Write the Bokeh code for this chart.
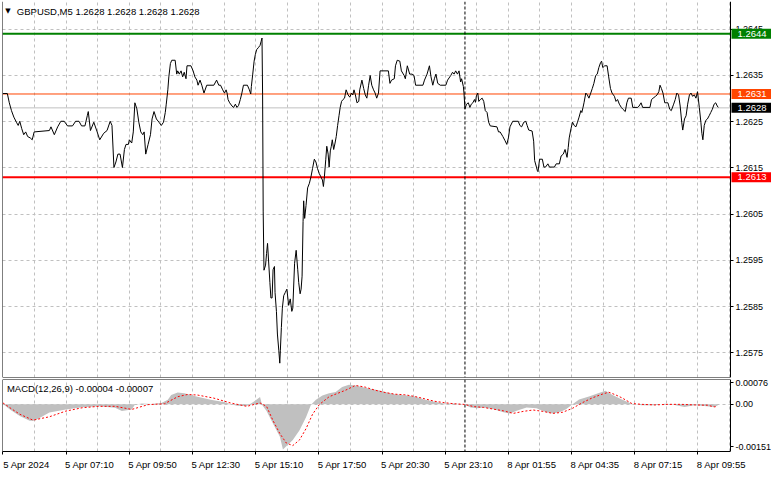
from bokeh.plotting import figure
from bokeh.models import (Range1d, FixedTicker, Span, Label, BoxAnnotation,
                          LinearAxis, CustomJSTickFormatter)
from bokeh.layouts import column
from bokeh.embed import file_html
from bokeh.resources import INLINE

# ---------------- data ----------------
symbol = "GBPUSD,M5"
last_ohlc = ["1.2628", "1.2628", "1.2628", "1.2628"]

# bar index (M5 bars since 5 Apr 04:30) and close price
bar_idx = [
    0, 2.2, 3.2, 4.3, 5.5, 6.8, 7.7, 8.5, 9.5, 10.5, 11.5, 12.5, 13.8, 14.8, 15.8,
    23.5, 24.3, 26, 27.7, 29.3, 31, 32.7, 35.2, 36.8, 38.5, 39.8, 41.5, 42.7, 43.2,
    44.3, 46, 47.7, 49, 51, 52.7, 54.3, 55.2, 56.2, 57.2, 58.2, 59.3, 60.5, 61.5,
    62.3, 63.5, 64, 65.2, 66, 66.8, 67.8, 68.8, 69.8, 70.8, 71.5, 72.3, 73.5, 74.7,
    75.5, 76.5, 77.7, 79, 80.2, 81.3, 82.2, 82.7, 83.5, 84, 84.8, 85.5, 87.2, 88,
    88.5, 89.3, 90.2, 91, 91.8, 92.7, 93.2, 95.2, 96.3, 97.2, 98.2, 98.8, 99.8,
    100.7, 101.8, 103.2, 106.8, 108.2, 109.3, 110.2, 111.3, 112.2, 113, 113.5, 114,
    114.8, 116, 116.8, 117.7, 118.5, 119.3, 120.2, 121, 121.8, 123.8, 124.8, 125.5,
    125.8, 126.5, 127.2, 127.8, 128.5, 129.3, 130.2, 130.7, 131.2, 131.5, 131.8,
    132.2, 133, 133.5, 134, 134.5, 135.2, 135.7, 136.3, 136.8, 137.5, 137.8, 138.5,
    139, 139.7, 140.2, 140.5, 141, 141.5, 142.2, 143, 143.8, 144.7, 145.5, 146.3,
    146.8, 147.7, 148.5, 149.3, 149.8, 150.5, 151, 151.5, 152, 152.3, 152.8, 153.5,
    154.3, 155.2, 156, 156.8, 157.7, 158.5, 159.3, 160.2, 161, 161.8, 162.3, 162.8,
    163.5, 164, 164.7, 165.2, 165.8, 166.3, 166.8, 167.5, 168.2, 168.8, 169.5, 170.2,
    170.8, 171.5, 172.2, 173, 173.8, 174.8, 175.7, 176.5, 177.2, 177.8, 178.5, 179.3,
    180.2, 180.7, 181.8, 182.7, 183.5, 184.3, 185.2, 186, 186.8, 187.7, 188.5, 189.3,
    190.2, 191, 195.2, 196, 196.8, 198.2, 198.8, 199.7, 201, 201.8, 203.2, 203.8,
    204.8, 206, 207.2, 208.2, 209, 212.7, 213.5, 214.8, 216, 216.8, 217.7, 218.5,
    219.3, 220.2, 221.5, 224.3, 225.2, 226.8, 227.7, 228.5, 229.3, 230.2, 231, 231.8,
    232.3, 233.2, 233.5, 234, 234.8, 235.7, 236.5, 237.2, 238, 238.8, 239.3, 239.8,
    240.5, 241, 241.8, 242.7, 243.5, 244.3, 245.2, 246, 246.8, 250.2, 251, 251.8,
    253.2, 254.3, 255.2, 256, 256.8, 258.2, 261, 261.8, 262.7, 263.8, 264.8, 265.5,
    266.3, 268, 268.8, 269.3, 270.2, 270.7, 271, 271.8, 273.2, 274, 274.8, 276,
    276.8, 279.3, 280.2, 281.8, 282.7, 283.8, 284.7, 285.7, 286.3, 286.8, 287.7,
    288.5, 289.3, 290.2, 291, 291.8, 292.7, 293.2, 293.8, 294.3, 295.2, 296, 296.8,
    297.7, 298.5, 299.3, 300.2, 301, 301.8, 302.7, 303.2, 303.8, 304.8, 306, 306.8,
    307.7, 308.5, 309.7, 310.5, 311.3, 312.2, 313.2, 314, 315.2, 316, 316.8, 318.2,
    319, 321.5, 322.2, 323.2, 324, 327.7, 328.5, 329.3, 330.5, 331.3, 332.2, 332.8,
    333.5, 334.3, 335.2, 336.8, 337.7, 338.5, 339.7, 340.5, 341.3, 342.2, 343, 343.8,
    344.3, 345.2, 346, 346.8, 347.7, 348.5, 349.3, 350.2, 351, 351.8, 352.7, 353.5,
    354, 354.5, 355.2, 356, 356.8, 357.7, 358.5, 359.3, 360.2, 361, 361.8, 362.3,
]
close = [
    1.26311, 1.26311, 1.26291, 1.26274, 1.26260, 1.26249, 1.26242, 1.26251, 1.26235,
    1.26222, 1.26228, 1.26218, 1.26215, 1.26211, 1.26228, 1.26231, 1.26239, 1.26222,
    1.26239, 1.26251, 1.26251, 1.26241, 1.26241, 1.26251, 1.26251, 1.26241, 1.26241,
    1.26263, 1.26272, 1.26231, 1.26249, 1.26228, 1.26211, 1.26225, 1.26231, 1.26251,
    1.26242, 1.26151, 1.26163, 1.26180, 1.26180, 1.26151, 1.26190, 1.26201, 1.26201,
    1.26211, 1.26204, 1.26228, 1.26291, 1.26278, 1.26249, 1.26228, 1.26222, 1.26228,
    1.26180, 1.26201, 1.26222, 1.26256, 1.26272, 1.26256, 1.26249, 1.26242, 1.26249,
    1.26270, 1.26288, 1.26319, 1.26347, 1.26376, 1.26383, 1.26383, 1.26353,
    1.26360, 1.26353, 1.26360, 1.26347, 1.26357, 1.26343, 1.26371, 1.26371, 1.26360,
    1.26347, 1.26340, 1.26329, 1.26340, 1.26329, 1.26312, 1.26329, 1.26329, 1.26340,
    1.26329, 1.26329, 1.26319, 1.26312, 1.26319, 1.26312, 1.26298, 1.26291, 1.26284,
    1.26281, 1.26288, 1.26281, 1.26285, 1.26298, 1.26312, 1.26329, 1.26329, 1.26319,
    1.26310, 1.26326, 1.26353, 1.26381, 1.26395, 1.26406, 1.26410, 1.26415, 1.26423,
    1.26431, 1.26308, 1.26055, 1.25929, 1.25940, 1.25965, 1.25987, 1.25951, 1.25902,
    1.25869, 1.25869, 1.25930, 1.25937, 1.25881, 1.25840, 1.25791, 1.25756, 1.25728,
    1.25756, 1.25805, 1.25847, 1.25874, 1.25881, 1.25888, 1.25853, 1.25867, 1.25840,
    1.25847, 1.25944, 1.25972, 1.25930, 1.25902, 1.25878, 1.25888, 1.25916, 1.26034,
    1.26079, 1.26041, 1.26069, 1.26107, 1.26117, 1.26131, 1.26149, 1.26169, 1.26163,
    1.26149, 1.26138, 1.26131, 1.26124, 1.26110, 1.26131, 1.26169, 1.26197, 1.26180,
    1.26152, 1.26187, 1.26197, 1.26211, 1.26190, 1.26204, 1.26218, 1.26242, 1.26263,
    1.26281, 1.26294, 1.26298, 1.26301, 1.26319, 1.26308, 1.26303, 1.26312, 1.26308,
    1.26319, 1.26308, 1.26291, 1.26294, 1.26319, 1.26340, 1.26322, 1.26308, 1.26301,
    1.26329, 1.26350, 1.26329, 1.26319, 1.26312, 1.26301, 1.26312, 1.26360, 1.26360,
    1.26333, 1.26340, 1.26343, 1.26371, 1.26383, 1.26381, 1.26360, 1.26350, 1.26343,
    1.26371, 1.26353, 1.26353, 1.26350, 1.26329, 1.26329, 1.26340, 1.26353, 1.26371,
    1.26347, 1.26329, 1.26343, 1.26353, 1.26333, 1.26329, 1.26329, 1.26340, 1.26350,
    1.26357, 1.26353, 1.26360, 1.26353, 1.26360, 1.26336, 1.26343, 1.26326, 1.26312,
    1.26278, 1.26288, 1.26291, 1.26281, 1.26288, 1.26291, 1.26298, 1.26292, 1.26306,
    1.26312, 1.26294, 1.26298, 1.26301, 1.26294, 1.26274, 1.26270, 1.26249, 1.26241,
    1.26239, 1.26228, 1.26228, 1.26218, 1.26209, 1.26201, 1.26215, 1.26239, 1.26251,
    1.26251, 1.26242, 1.26239, 1.26249, 1.26251, 1.26242, 1.26232, 1.26230, 1.26208,
    1.26166, 1.26152, 1.26144, 1.26142, 1.26169, 1.26169, 1.26152, 1.26152, 1.26159,
    1.26152, 1.26152, 1.26159, 1.26159, 1.26176, 1.26180, 1.26190, 1.26173, 1.26194,
    1.26215, 1.26235, 1.26249, 1.26242, 1.26239, 1.26249, 1.26260, 1.26274, 1.26270,
    1.26281, 1.26291, 1.26312, 1.26308, 1.26301, 1.26312, 1.26322, 1.26333, 1.26350,
    1.26353, 1.26367, 1.26378, 1.26381, 1.26367, 1.26371, 1.26371, 1.26347, 1.26322,
    1.26312, 1.26305, 1.26294, 1.26298, 1.26288, 1.26281, 1.26277, 1.26272, 1.26291,
    1.26301, 1.26301, 1.26281, 1.26281, 1.26284, 1.26291, 1.26281, 1.26281, 1.26298,
    1.26301, 1.26305, 1.26308, 1.26315, 1.26329, 1.26322, 1.26312, 1.26291, 1.26291,
    1.26277, 1.26274, 1.26288, 1.26298, 1.26312, 1.26308, 1.26284, 1.26249, 1.26232,
    1.26256, 1.26263, 1.26288, 1.26308, 1.26312, 1.26305, 1.26308, 1.26301, 1.26315,
    1.26281, 1.26249, 1.26225, 1.26211, 1.26242, 1.26253, 1.26256, 1.26263, 1.26270,
    1.26277, 1.26288, 1.26291, 1.26284, 1.26281,
]

# MACD(12,26,9) main (histogram) and signal
hist_bar = [
    0, 3.5, 8.5, 13.5, 16, 23.5, 31.8, 40.2, 48.5, 56.8, 60.2, 65.2, 66.8, 70.2, 75.2,
    80.2, 83.5, 85.2, 88.5, 91.8, 95.2, 98.5, 105.2, 111.8, 115.2, 118.5, 123.5, 126.8,
    130.2, 131.2, 133.5, 136.8, 140.2, 141.8, 143.5, 146.8, 150.2, 153.5, 156, 158.5,
    161.8, 165.2, 168.5, 171.8, 175.2, 178.5, 181.8, 185.2, 190.2, 193.5, 198.5, 203.5,
    208.5, 213.5, 218.5, 223.5, 228.5, 233.5, 236.8, 240.2, 243.5, 248.5, 253.5, 256.8,
    260.2, 265.2, 270.2, 275.2, 278.5, 281.8, 285.2, 288.5, 291.8, 296.8, 301.8, 305.2,
    308.5, 313.5, 318.5, 323.5, 330.2, 335.2, 340.2, 345.2, 350.2, 355.2, 360.2, 362,
]
hist_val = [
    0.00001, -0.00018, -0.00041, -0.00058, -0.00058, -0.00029, -0.00018, -0.00010,
    -0.00007, -0.00012, -0.00024, -0.00018, -0.00001, 0.00003, 0.00001, 0.00005,
    0.00016, 0.00033, 0.00042, 0.00039, 0.00033, 0.00027, 0.00016, 0.00008, 0.00001,
    -0.00005, -0.00006, 0.00008, 0.00026, -0.00001, -0.00024, -0.00069, -0.00114,
    -0.00160, -0.00148, -0.00126, -0.00092, -0.00046, -0.00001, 0.00016, 0.00031,
    0.00039, 0.00044, 0.00061, 0.00069, 0.00067, 0.00061, 0.00056, 0.00050, 0.00044,
    0.00036, 0.00032, 0.00028, 0.00017, 0.00009, 0.00003, 0.00003, 0.0, -0.00011,
    -0.00014, -0.00011, -0.00017, -0.00028, -0.00032, -0.00023, -0.00011, -0.00014,
    -0.00028, -0.00032, -0.00028, -0.00017, 0.0, 0.00017, 0.00028, 0.00040, 0.00048,
    0.00034, 0.00017, 0.00002, -0.00003, -0.00003, 0.00002, -0.00002, -0.00009,
    -0.00003, -0.00006, -0.00009, -0.00004,
]
signal_bar = [
    0, 3.5, 8.5, 15.2, 23.5, 31.8, 40.2, 48.5, 56.8, 65.2, 73.5, 81.8, 88.5, 93.5, 98.5,
    106.8, 115.2, 123.5, 130.2, 133.5, 136.8, 140.2, 143.5, 146.8, 150.2, 153.5, 156.8,
    160.2, 165.2, 173.5, 178.5, 183.5, 188.5, 193.5, 198.5, 203.5, 208.5, 213.5, 218.5,
    223.5, 228.5, 233.5, 238.5, 243.5, 248.5, 253.5, 258.5, 263.5, 268.5, 273.5, 278.5,
    283.5, 288.5, 293.5, 298.5, 303.5, 306.8, 310.2, 313.5, 318.5, 323.5, 330.2, 336.8,
    343.5, 350.2, 356.8, 360.2, 362,
]
signal_val = [
    0.00005, -0.00012, -0.00035, -0.00056, -0.00044, -0.00024, -0.00012, -0.00007,
    -0.00007, -0.00018, -0.00001, 0.00002, 0.00027, 0.00035, 0.00033, 0.00022, 0.00005,
    -0.00007, 0.00005, -0.00007, -0.00058, -0.00103, -0.00137, -0.00146, -0.00126,
    -0.00086, -0.00035, -0.00001, 0.00027, 0.00050, 0.00067, 0.00061, 0.00050, 0.00042,
    0.00036, 0.00034, 0.00028, 0.00020, 0.00011, 0.00006, 0.00002, 0.0, -0.00008,
    -0.00011, -0.00017, -0.00023, -0.00032, -0.00025, -0.00020, -0.00025, -0.00032,
    -0.00028, -0.00014, 0.00006, 0.00023, 0.00036, 0.00043, 0.00034, 0.00023, 0.00003,
    0.0, -0.00002, 0.0, 0.0, -0.00002, -0.00003, -0.00009, -0.00007,
]
macd_title = "MACD(12,26,9) -0.00004 -0.00007"

price_ticks = [1.2575, 1.2585, 1.2595, 1.2605, 1.2615, 1.2625, 1.2635, 1.2645]
macd_ticks = [-0.00151, 0.0, 0.00076]
time_label_bars = [0, 32, 64, 96, 128, 160, 192, 224, 256, 288, 320, 352]
time_labels = ["5 Apr 2024", "5 Apr 07:10", "5 Apr 09:50", "5 Apr 12:30",
               "5 Apr 15:10", "5 Apr 17:50", "5 Apr 20:30", "5 Apr 23:10",
               "8 Apr 01:55", "8 Apr 04:35", "8 Apr 07:15", "8 Apr 09:55"]
grid_bars = list(range(16, 369, 16))
separator_bar = 234  # 8 Apr 00:00

level_values = [1.2644, 1.2631, 1.2628, 1.2613]
level_labels = ["1.2644", "1.2631", "1.2628", "1.2613"]
level_colors = ["#008000", "#ff4500", "#c0c0c0", "#ff0000"]
level_box_colors = ["#008000", "#ff4500", "#000000", "#ff0000"]
level_widths = [2, 1, 1, 2]

# ---------------- styling / layout ----------------
FONT = "Liberation Sans"
FS = "9.5px"
AXFS = "9px"
PLOT_W = 728            # width of the charting area (left of price scale)
FULL_W = 769            # frame incl. price-scale area
X0, X1 = -0.25, 368.5
PX_PER_BAR = PLOT_W / (X1 - X0)
XE = X1 + (FULL_W - PLOT_W) / PX_PER_BAR
PY0, PY1 = 1.25697, 1.26510
MY0, MY1 = -0.00167, 0.00088
MAIN_H = 376
MACD_H = 72
GRID_COLOR = "#c0c0c0"
LABEL_SHIFT = 23.5 / PX_PER_BAR   # centre of a left-aligned time label


def line_axis(loc, bounds=None):
    ax = LinearAxis(fixed_location=loc, ticker=FixedTicker(ticks=[]),
                    formatter=CustomJSTickFormatter(code="return '';"),
                    axis_line_color="black", major_tick_line_color=None,
                    minor_tick_line_color=None, major_label_text_font_size="0px")
    if bounds is not None:
        ax.bounds = bounds
    return ax


def price_axis(ticks, code):
    return LinearAxis(fixed_location=X1, ticker=FixedTicker(ticks=ticks),
                      formatter=CustomJSTickFormatter(code=code),
                      axis_line_color="black", major_tick_line_color="black",
                      major_tick_out=3, major_tick_in=0, minor_tick_line_color=None,
                      major_label_standoff=2, major_label_text_font=FONT,
                      major_label_text_font_size=AXFS, major_label_text_color="black")


def base_fig(h, yr, bottom):
    f = figure(frame_width=FULL_W, frame_height=h,
               x_range=Range1d(X0, XE), y_range=yr,
               x_axis_location=None, y_axis_location=None,
               output_backend="svg", toolbar_location=None,
               min_border_left=2, min_border_right=0,
               min_border_top=1, min_border_bottom=bottom)
    f.outline_line_color = None
    f.background_fill_color = "white"
    f.border_fill_color = "white"
    f.xgrid.ticker = FixedTicker(ticks=grid_bars)
    for g in (f.xgrid, f.ygrid):
        g.grid_line_color = GRID_COLOR
        g.grid_line_dash = "3 3"
        g.grid_line_width = 1
    return f


# ---------------- main price panel ----------------
p = base_fig(MAIN_H, Range1d(PY0, PY1), 1)
p.ygrid.ticker = FixedTicker(ticks=price_ticks)

for v, c, w in zip(level_values, level_colors, level_widths):
    p.add_layout(Span(location=v, dimension="width", line_color=c,
                      line_width=w, level="underlay"))
p.add_layout(Span(location=separator_bar, dimension="height", line_color="black",
                  line_width=1, line_dash="3 2", level="underlay"))
# price-scale area stays white
p.add_layout(BoxAnnotation(left=X1, fill_color="white", fill_alpha=1.0,
                           line_color=None, level="underlay"))

p.line(bar_idx, close, line_color="black", line_width=1)

p.add_layout(line_axis(X0), "left")
p.add_layout(line_axis(PY0, (X0, X1)), "below")
p.add_layout(price_axis(price_ticks, "return tick.toFixed(4);"), "right")

py_per_px = (PY1 - PY0) / 390.0
p.add_layout(Label(x=2.5, y=PY1 - 10 * py_per_px, text="\u25bc", text_font="DejaVu Sans",
                   text_font_size="7px", text_color="black",
                   text_align="center", text_baseline="middle"))
p.add_layout(Label(x=7, y=PY1 - 10 * py_per_px,
                   text=symbol + "  " + " ".join(last_ohlc),
                   text_font=FONT, text_font_size=FS, text_color="black",
                   text_align="left", text_baseline="middle"))

for v, lab, bc in zip(level_values, level_labels, level_box_colors):
    p.add_layout(Label(x=X1, y=v, x_offset=1, text=lab, text_font=FONT,
                       text_font_size=FS, text_color="white",
                       background_fill_color=bc, text_align="left",
                       text_baseline="middle", padding=(6, 2)))

# ---------------- MACD panel ----------------
m = base_fig(MACD_H, Range1d(MY0, MY1), 22)
m.ygrid.ticker = FixedTicker(ticks=[0.0])

m.add_layout(Span(location=separator_bar, dimension="height", line_color="black",
                  line_width=1, line_dash="3 2", level="underlay"))
m.add_layout(BoxAnnotation(left=X1, fill_color="white", fill_alpha=1.0,
                           line_color=None, level="underlay"))
m.varea(x=hist_bar, y1=0, y2=hist_val, fill_color="#c0c0c0")
m.line(signal_bar, signal_val, line_color="#ff0000", line_width=1, line_dash="2 2")

m.add_layout(line_axis(X0), "left")
m.add_layout(line_axis(MY1, (X0, X1)), "above")
m.add_layout(price_axis(macd_ticks,
                        "return Math.abs(tick) < 1e-12 ? '0.00' : tick.toFixed(5);"), "right")

label_ticks = [b + LABEL_SHIFT for b in time_label_bars]
xa = LinearAxis(ticker=FixedTicker(ticks=label_ticks, minor_ticks=time_label_bars),
                formatter=CustomJSTickFormatter(
                    args=dict(labels=time_labels, first=label_ticks[0], step=32),
                    code="const i = Math.round((tick - first) / step); return labels[i] || '';"),
                bounds=(X0, X1),
                axis_line_color="black", major_tick_line_color=None,
                major_tick_out=0, major_tick_in=0,
                minor_tick_line_color="black", minor_tick_out=3, minor_tick_in=0,
                major_label_standoff=4, major_label_text_font=FONT,
                major_label_text_font_size=FS, major_label_text_color="black")
m.add_layout(xa, "below")

my_per_px = (MY1 - MY0) / 75.0
m.add_layout(Label(x=2, y=MY1 - 9 * my_per_px, text=macd_title, text_font=FONT,
                   text_font_size=FS, text_color="black",
                   text_align="left", text_baseline="middle"))

layout = column(p, m, spacing=0)
open("out.html", "w").write(file_html(layout, INLINE))
